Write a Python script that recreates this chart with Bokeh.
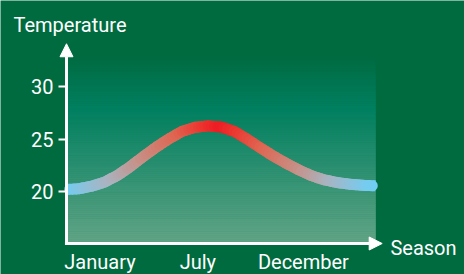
import numpy as np
from bokeh.plotting import figure
from bokeh.models import Range1d, FixedTicker, Arrow, NormalHead, Label
from bokeh.embed import file_html
from bokeh.resources import INLINE

# ---- data ----
season_x = [0.0, 0.5, 1.0, 1.5, 2.0, 2.5, 3.0, 3.5, 4.0, 4.5, 5.0, 5.5, 6.0,
            6.5, 7.0, 7.5, 8.0, 8.5, 9.0, 9.5, 10.0, 10.5, 11.0, 11.5, 12.0]
temperature = [20.16, 20.25, 20.50, 20.90, 21.55, 22.40, 23.35, 24.25, 25.05,
               25.75, 26.12, 26.26, 26.15, 25.75, 25.02, 24.20, 23.42, 22.72,
               22.07, 21.50, 21.10, 20.84, 20.67, 20.57, 20.52]
month_ticks = [1.3, 5.1, 9.2]
month_labels = ["January", "July", "December"]
temp_ticks = [20, 25, 30]

# ---- style ----
BG = "#006b3f"
FONT = "Roboto"
FS = "20px"

X_LO, X_HI = -2.563, 15.456     # whole canvas in data units
Y_LO, Y_HI = 12.033, 38.26
X_TIP = 12.26      # tip of the season arrow
Y_BASE = 15.0      # where the season axis crosses
Y_TIP = 34.12      # tip of the temperature arrow
SHADE_TOP = 32.7

p = figure(width=464, height=274, output_backend="svg", toolbar_location=None,
           x_range=Range1d(X_LO, X_HI), y_range=Range1d(Y_LO, Y_HI),
           min_border=0, min_border_left=0, min_border_right=0,
           min_border_top=0, min_border_bottom=0,
           background_fill_color=BG, border_fill_color=BG, outline_line_color=None)
p.grid.visible = False

# background gradient of the plotting area
def lerp(c0, c1, t):
    return tuple(int(round(a + (b - a) * t)) for a, b in zip(c0, c1))

stops = [(SHADE_TOP, (0, 108, 67)), (28.0, (0, 128, 96)), (Y_BASE, (99, 165, 135))]
n_bands = 90
edges = np.linspace(SHADE_TOP, Y_BASE, n_bands + 1)
cols = []
for i in range(n_bands):
    yc = 0.5 * (edges[i] + edges[i + 1])
    for (ya, ca), (yb, cb) in zip(stops[:-1], stops[1:]):
        if ya >= yc >= yb:
            c = lerp(ca, cb, (ya - yc) / (ya - yb))
            break
    cols.append("#%02x%02x%02x" % c)
p.quad(left=season_x[0], right=season_x[-1], top=edges[:-1], bottom=edges[1:],
       fill_color=cols, line_color=cols, line_width=0.6)

# gradient coloured curve (blue at the ends, red in the middle)
cstops = [(0.0, (110, 207, 246)), (0.3, (172, 178, 190)), (0.5, (200, 142, 132)),
          (0.72, (222, 102, 82)), (0.9, (236, 52, 46)), (1.0, (238, 28, 36))]

def curve_color(xm):
    t = 1 - abs(xm - 6.0) / 6.0
    for (ta, ca), (tb, cb) in zip(cstops[:-1], cstops[1:]):
        if ta <= t <= tb:
            return "#%02x%02x%02x" % lerp(ca, cb, (t - ta) / (tb - ta))
    return "#%02x%02x%02x" % cstops[-1][1]

sub = 4
x0s, y0s, x1s, y1s, scol = [], [], [], [], []
for i in range(len(season_x) - 1):
    xa, ya, xb, yb = season_x[i], temperature[i], season_x[i + 1], temperature[i + 1]
    for k in range(sub):
        fa, fb = k / sub, (k + 1) / sub
        x0s.append(xa + (xb - xa) * fa); y0s.append(ya + (yb - ya) * fa)
        x1s.append(xa + (xb - xa) * fb); y1s.append(ya + (yb - ya) * fb)
        scol.append(curve_color(0.5 * (x0s[-1] + x1s[-1])))
inner = slice(1, -1)
ends = [0, len(x0s) - 1]
p.segment(x0=x0s[inner], y0=y0s[inner], x1=x1s[inner], y1=y1s[inner],
          line_color=scol[inner], line_width=11, line_cap="round")
p.segment(x0=[x0s[i] for i in ends], y0=[y0s[i] for i in ends],
          x1=[x1s[i] for i in ends], y1=[y1s[i] for i in ends],
          line_color=[scol[i] for i in ends], line_width=11, line_cap="butt")

# axes (ticks and labels), placed at the crossing point of the arrows
xa_, ya_ = p.xaxis[0], p.yaxis[0]
for ax in (xa_, ya_):
    ax.axis_line_color = None
    ax.minor_tick_line_color = None
    ax.major_label_text_color = "white"
    ax.major_label_text_font = FONT
    ax.major_label_text_font_size = FS

ya_.fixed_location = season_x[0]
ya_.ticker = FixedTicker(ticks=temp_ticks)
ya_.major_tick_line_color = "white"
ya_.major_tick_line_width = 2
ya_.major_tick_out = 8
ya_.major_tick_in = 0
ya_.major_label_standoff = 5

xa_.fixed_location = Y_BASE
xa_.ticker = FixedTicker(ticks=month_ticks)
xa_.major_label_overrides = {t: l for t, l in zip(month_ticks, month_labels)}
xa_.major_tick_line_color = None
xa_.major_tick_out = 0
xa_.major_tick_in = 0
xa_.major_label_standoff = 6

# axis lines with arrow heads
p.add_layout(Arrow(end=NormalHead(size=13, fill_color="white", line_color="white"),
                   x_start=season_x[0], y_start=Y_BASE - 0.14, x_end=season_x[0],
                   y_end=Y_TIP, line_color="white", line_width=3))
p.add_layout(Arrow(end=NormalHead(size=13, fill_color="white", line_color="white"),
                   x_start=season_x[0] - 0.06, y_start=Y_BASE, x_end=X_TIP,
                   y_end=Y_BASE, line_color="white", line_width=3))

# axis titles
p.add_layout(Label(x=-2.058, y=35.96, text="Temperature", text_color="white",
                   text_font=FONT, text_font_size=FS, text_baseline="alphabetic"))
p.add_layout(Label(x=12.58, y=14.61, text="Season", text_color="white",
                   text_font=FONT, text_font_size=FS, text_baseline="alphabetic"))

open("out.html", "w").write(file_html(p, INLINE))
